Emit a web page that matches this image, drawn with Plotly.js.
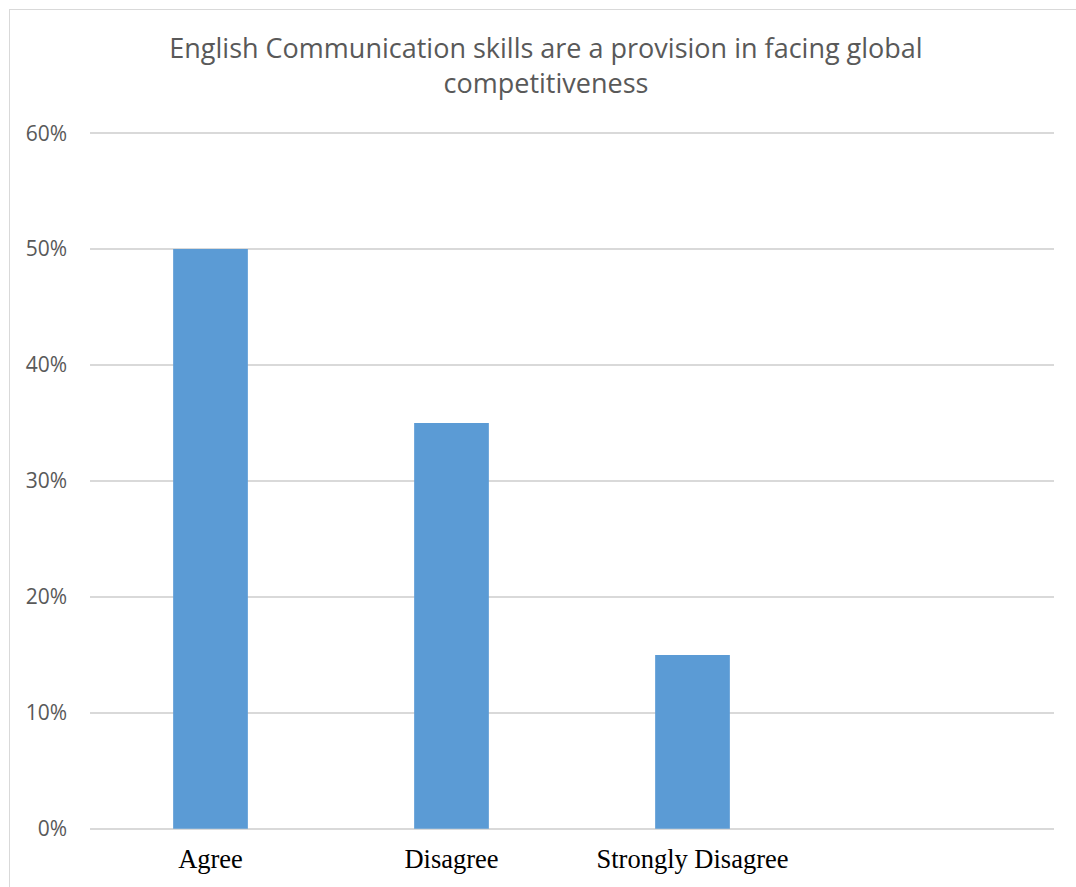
<!DOCTYPE html>
<html><head><meta charset="utf-8">
<script src="https://cdn.plot.ly/plotly-3.0.1.min.js"></script>
<style>
html,body{margin:0;padding:0;background:#fff;}
#wrap{position:relative;width:1076px;height:887px;overflow:hidden;}
#chart{position:absolute;left:0;top:0;width:1076px;height:887px;}
#frame{position:absolute;left:9px;top:9px;width:1090px;height:900px;border:1px solid #d9d9d9;pointer-events:none;}
</style></head>
<body><div id="wrap"><div id="chart"></div><div id="frame"></div></div>
<script>
const categories = ["Agree", "Disagree", "Strongly Disagree", " "];
const values = [0.50, 0.35, 0.15, null];
const yTicks = [0, 0.1, 0.2, 0.3, 0.4, 0.5, 0.6];
const yTickLabels = ["0%", "10%", "20%", "30%", "40%", "50%", "60%"];
const titleText = "English Communication skills are a provision in facing global<br>competitiveness";

Plotly.newPlot('chart', [{
  type: 'bar',
  x: categories,
  y: values,
  marker: {color: '#5b9bd5'},
  hoverinfo: 'none'
}], {
  width: 1076, height: 887,
  margin: {l: 90, r: 22, t: 132, b: 57},
  paper_bgcolor: '#ffffff', plot_bgcolor: '#ffffff',
  bargap: 0.69,
  showlegend: false,
  title: {
    text: titleText,
    x: 546/1076, xref: 'container', xanchor: 'center',
    y: 1 - 58/887, yanchor: 'top', yref: 'container',
    font: {family: 'Open Sans, sans-serif', size: 27, color: '#595959'}
  },
  xaxis: {
    type: 'category',
    tickfont: {family: 'Liberation Serif, Times New Roman, serif', size: 26.5, color: '#000000'},
    showgrid: false, zeroline: false, showline: false,
    ticks: '', ticklabelstandoff: 10
  },
  yaxis: {
    range: [-0.001, 0.601],
    tickvals: yTicks, ticktext: yTickLabels,
    tickfont: {family: 'Open Sans, sans-serif', size: 21, color: '#595959'},
    showgrid: true, gridcolor: '#d9d9d9', gridwidth: 1.5,
    zeroline: false, showline: false, ticks: '', ticklabelstandoff: 22
  }
}, {staticPlot: true});
</script></body></html>
